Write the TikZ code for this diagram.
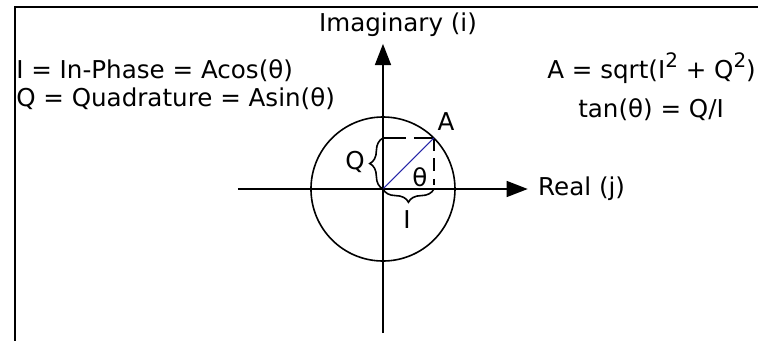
\documentclass[tikz,border=0pt]{standalone}
\usepackage{fontspec}
\setmainfont{DejaVu Sans}
\usepackage{tikz}
\usetikzlibrary{arrows.meta,decorations.pathreplacing}
\definecolor{azulFase}{HTML}{2626A8}
\newcommand{\expo}[1]{\raisebox{0.42em}{\fontsize{15}{15}\selectfont #1}}

\begin{document}
\begin{tikzpicture}[
    eje/.style={line width=1.5pt, draw=black},
    flecha/.style={eje, -{Triangle[length=0.56cm, width=0.42cm]}},
    circulo/.style={line width=1.2pt, draw=black},
    guia/.style={line width=1.5pt, dash pattern=on 0.62cm off 0.2cm},
    llave/.style={line width=1.2pt, decorate, decoration={brace, amplitude=0.35cm}},
    texto/.style={inner sep=0pt, font=\fontsize{18.5}{22}\selectfont},
    marco/.style={line width=1.6pt, draw=black}
  ]
  \useasboundingbox (-10.132,-3.995) rectangle (9.921,5.0);
  \draw[marco] (-9.735,-4.2) -- (-9.735,4.81) -- (10.2,4.81);

  \coordinate (O) at (0,0);
  \coordinate (ejeIzq) at (-3.84,0);
  \coordinate (ejeDer) at (3.83,0);
  \coordinate (ejeAbajo) at (0,-3.81);
  \coordinate (ejeArriba) at (0,3.84);
  \coordinate (A) at (45:1.905);
  \coordinate (Aq) at (O|-A);
  \coordinate (Ai) at (A|-O);

  \draw[flecha] (ejeIzq) -- (ejeDer);
  \draw[flecha] (ejeAbajo) -- (ejeArriba);
  \draw[circulo] (O) circle (1.905);

  \draw[guia] (Aq) -- (A);
  \draw[line width=1.5pt, dash pattern=on 0.34cm off 0.2cm] (A) -- ([yshift=0.1cm]Ai);
  \draw[azulFase, line width=0.8pt] (O) -- (A);

  \draw[llave] (O) -- (Aq);
  \draw[llave] (Ai) -- (O);

  \node[texto] (lblA) at (1.667,1.772) {A};
  \node[texto] (lblQ) at (-0.741,0.714) {Q};
  \node[texto] (lblTheta) at (0.979,0.317) {θ};
  \node[texto] (lblI) at (0.635,-0.820) {I};

  \node[texto] (imag) at (0.397,4.339) {Imaginary (i)};
  \node[texto, anchor=west] (real) at (4.10,0) {Real (j)};

  \node[texto, anchor=west] (fase) at (-9.709,3.12) {I = In-Phase = Acos(θ)};
  \node[texto, anchor=west] (cuad) at (-9.709,2.40) {Q = Quadrature = Asin(θ)};
  \node[texto, anchor=west] (ampl) at (4.34,3.20) {A = sqrt(I\expo{2} + Q\expo{2})};
  \node[texto, anchor=west] (tang) at (5.159,2.09) {tan(θ) = Q/I};
\end{tikzpicture}
\end{document}
